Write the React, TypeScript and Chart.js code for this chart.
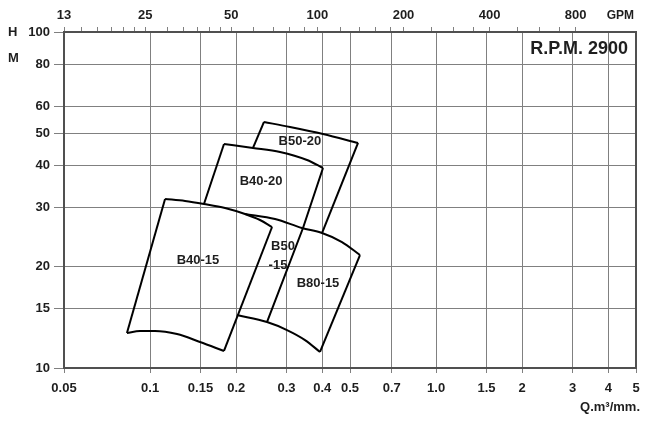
import React, { useEffect, useRef } from 'react';
import { Chart, registerables } from 'chart.js';

Chart.register(...registerables);

// Axis ticks
const X_TICKS = [0.05, 0.1, 0.15, 0.2, 0.3, 0.4, 0.5, 0.7, 1, 1.5, 2, 3, 4, 5];
const Y_TICKS = [10, 15, 20, 30, 40, 50, 60, 80, 100];
const GPM_TICKS = [13, 15, 17, 19, 21, 23, 25, 30, 34, 38, 42, 46, 50, 60, 70, 80, 90, 100, 120, 140, 160, 180, 200, 250, 300, 350, 400, 500, 600, 700, 800];
const GPM_LABELS = [13, 25, 50, 100, 200, 400, 800];

// Pump curves: [Q m3/min, H m]
const B40_15_LEFT = [[0.083, 12.71], [0.1128, 31.84]];
const B40_15_TOP = [[0.1128, 31.84], [0.1325, 31.41], [0.1543, 30.77], [0.1828, 29.94], [0.2147, 28.73], [0.2422, 27.57], [0.2669, 26.28]];
const B40_15_RIGHT = [[0.2669, 26.28], [0.1813, 11.24]];
const B40_15_BOTTOM = [[0.083, 12.71], [0.0922, 12.89], [0.104, 12.89], [0.1242, 12.62], [0.1494, 11.95], [0.1813, 11.24]];

const B40_20_LEFT = [[0.1813, 46.42], [0.1543, 30.77]];
const B40_20_TOP = [[0.1813, 46.42], [0.229, 45.18], [0.2846, 43.95], [0.3537, 41.59], [0.4023, 39.38]];
const B40_20_RIGHT = [[0.4023, 39.38], [0.3425, 26.1], [0.2563, 13.7]];

const B50_20_LEFT = [[0.2502, 53.98], [0.229, 45.18]];
const B50_20_TOP = [[0.2502, 53.98], [0.3085, 52.16], [0.4023, 49.7], [0.5334, 46.75]];
const B50_20_RIGHT = [[0.5334, 46.75], [0.3991, 25.22]];

const B80_15_TOP = [[0.2147, 28.73], [0.2734, 27.76], [0.3397, 26.1], [0.3991, 25.22], [0.4688, 23.71], [0.5418, 21.69]];
const B80_15_RIGHT = [[0.5418, 21.69], [0.3927, 11.16]];
const B80_15_BOTTOM = [[0.2014, 14.38], [0.2563, 13.7], [0.3011, 12.97], [0.3481, 12.11], [0.3927, 11.16]];

const CURVES = [B40_15_TOP, B40_15_BOTTOM, B40_20_TOP, B50_20_TOP, B80_15_TOP, B80_15_BOTTOM];
const STRAIGHTS = [B40_15_LEFT, B40_15_RIGHT, B40_20_LEFT, B40_20_RIGHT, B50_20_LEFT, B50_20_RIGHT, B80_15_RIGHT];

// Model labels
const MODEL_TEXT = ['B50-20', 'B40-20', 'B40-15', 'B50', '-15', 'B80-15'];
const MODEL_Q = [0.334, 0.2443, 0.147, 0.2916, 0.28, 0.3865];
const MODEL_H = [47.1, 36.0, 20.96, 23.07, 20.26, 17.91];

const FONT = '"Liberation Sans", Arial, Helvetica, sans-serif';
const TEXT = '#1e1e1e';
const GRID = '#808080';

const fmtX = (v: number) => (v === 1 ? '1.0' : String(v));

const annotPlugin = {
  id: 'annot',
  beforeDatasetsDraw(chart: any) {
    const { ctx, chartArea: ca } = chart;
    ctx.save();
    ctx.strokeStyle = '#505050';
    ctx.lineWidth = 2;
    ctx.strokeRect(ca.left, ca.top, ca.right - ca.left, ca.bottom - ca.top);
    ctx.restore();
  },
  afterDatasetsDraw(chart: any) {
    const { ctx } = chart;
    const xs = chart.scales.x;
    const ys = chart.scales.y;
    ctx.save();
    ctx.fillStyle = TEXT;
    ctx.textAlign = 'center';
    ctx.textBaseline = 'middle';
    ctx.font = `bold 13px ${FONT}`;
    MODEL_TEXT.forEach((t, i) => {
      ctx.fillText(t, xs.getPixelForValue(MODEL_Q[i]), ys.getPixelForValue(MODEL_H[i]));
    });
    ctx.font = `bold 18px ${FONT}`;
    ctx.textAlign = 'right';
    ctx.fillText('R.P.M. 2900', 628, 49);
    ctx.font = `bold 13px ${FONT}`;
    ctx.textAlign = 'left';
    ctx.fillText('H', 8, 32);
    ctx.fillText('M', 8, 58);
    ctx.font = `bold 12px ${FONT}`;
    ctx.textAlign = 'right';
    ctx.fillText('GPM', 634, 16);
    ctx.font = `bold 13px ${FONT}`;
    ctx.fillText('Q.m³/mm.', 640, 407);
    ctx.restore();
  },
};

export default function App() {
  const ref = useRef<HTMLCanvasElement | null>(null);
  useEffect(() => {
    if (!ref.current) return;
    const tickFont = { family: FONT, size: 13, weight: 'bold' as const };
    const mk = (pts: number[][], curve: boolean) => ({
      data: pts.map(([x, y]) => ({ x, y })),
      showLine: true,
      borderColor: '#000',
      borderWidth: 2,
      pointRadius: 0,
      fill: false,
      cubicInterpolationMode: curve ? ('monotone' as const) : ('default' as const),
      tension: 0,
      xAxisID: 'x',
      yAxisID: 'y',
    });
    const chart = new Chart(ref.current, {
      type: 'scatter',
      data: {
        datasets: [...CURVES.map((c) => mk(c, true)), ...STRAIGHTS.map((c) => mk(c, false))],
      },
      options: {
        animation: false,
        responsive: false,
        maintainAspectRatio: false,
        layout: { padding: { left: 0, right: 14, top: 0, bottom: 0 } },
        plugins: { legend: { display: false }, tooltip: { enabled: false } },
        scales: {
          x: {
            type: 'logarithmic',
            position: 'bottom',
            min: 0.05,
            max: 5,
            afterBuildTicks: (s: any) => {
              s.ticks = X_TICKS.map((v) => ({ value: v }));
            },
            afterFit: (s: any) => {
              s.height = 54;
            },
            ticks: {
              autoSkip: false,
              maxRotation: 0,
              padding: 8,
              color: TEXT,
              font: tickFont,
              callback: (v: any) => fmtX(Number(v)),
            },
            grid: { color: GRID, lineWidth: 1, tickLength: 5 },
            border: { display: false },
          },
          x2: {
            type: 'logarithmic',
            position: 'top',
            min: 13,
            max: 1300,
            afterBuildTicks: (s: any) => {
              s.ticks = GPM_TICKS.map((v) => ({ value: v }));
            },
            afterFit: (s: any) => {
              s.height = 32;
            },
            ticks: {
              autoSkip: false,
              maxRotation: 0,
              padding: 4,
              color: TEXT,
              font: tickFont,
              callback: (v: any) => (GPM_LABELS.includes(Number(v)) ? String(v) : ''),
            },
            grid: { color: GRID, lineWidth: 1, tickLength: 5, drawOnChartArea: false },
            border: { display: false },
          },
          y: {
            type: 'logarithmic',
            position: 'left',
            min: 10,
            max: 100,
            afterBuildTicks: (s: any) => {
              s.ticks = Y_TICKS.map((v) => ({ value: v }));
            },
            afterFit: (s: any) => {
              s.width = 64;
            },
            ticks: {
              autoSkip: false,
              padding: 4,
              color: TEXT,
              font: tickFont,
              callback: (v: any) => String(v),
            },
            grid: { color: GRID, lineWidth: 1, tickLength: 10 },
            border: { display: false },
          },
        },
      } as any,
      plugins: [annotPlugin],
    });
    return () => chart.destroy();
  }, []);
  return (
    <div style={{ position: 'absolute', left: 0, top: 0, width: 650, height: 422, background: '#fff' }}>
      <canvas ref={ref} width={650} height={422} style={{ width: 650, height: 422 }} />
    </div>
  );
}
